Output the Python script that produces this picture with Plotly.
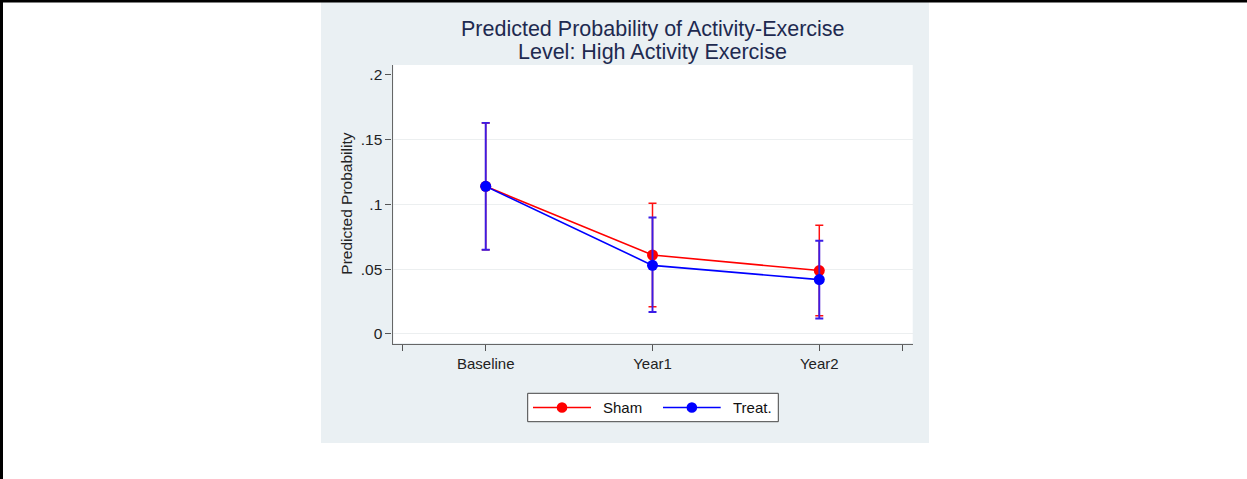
import numpy as np
import plotly.graph_objects as go

# Predicted probability of high activity exercise by visit and arm
periods = ["Baseline", "Year1", "Year2"]
period_pos = [1, 2, 3]

sham_prob = [0.114, 0.061, 0.049]
sham_lo = [0.065, 0.021, 0.014]
sham_hi = [0.163, 0.101, 0.084]

treat_prob = [0.114, 0.053, 0.042]
treat_lo = [0.065, 0.017, 0.012]
treat_hi = [0.163, 0.090, 0.072]

y_ticks = [0, 0.05, 0.1, 0.15, 0.2]
y_tick_text = ["0", ".05", ".1", ".15", ".2"]

W, H = 1247, 479


def px(x):
    return x / W


def py(y):
    return 1 - y / H


PANEL = "#EAF0F3"
FONT = "Arial, Liberation Sans, Helvetica, sans-serif"


def arm_trace(name, prob, lo, hi, color, err_color, err_width):
    prob = np.array(prob)
    return go.Scatter(
        x=period_pos,
        y=prob,
        name=name,
        mode="lines+markers",
        line=dict(color=color, width=1.6),
        marker=dict(color=color, size=11),
        error_y=dict(
            type="data",
            symmetric=False,
            array=np.array(hi) - prob,
            arrayminus=prob - np.array(lo),
            color=err_color,
            thickness=err_width,
            width=4,
        ),
        showlegend=False,
        cliponaxis=False,
    )


fig = go.Figure()
fig.add_trace(arm_trace("Sham", sham_prob, sham_lo, sham_hi, "#FF0000", "#FF1010", 1.5))
fig.add_trace(arm_trace("Treat.", treat_prob, treat_lo, treat_hi, "#0000FF", "#3A1CE6", 1.9))

# grid-only overlay axis (no line at the top tick)
fig.add_trace(go.Scatter(x=[None], y=[None], yaxis="y2", showlegend=False))

x_dom = [px(392.5), px(912.7)]
y_dom = [py(343.5), py(65)]
y_range = [-0.00734, 0.2077]

fig.update_layout(
    width=W,
    height=H,
    margin=dict(l=0, r=0, t=0, b=0),
    paper_bgcolor="white",
    plot_bgcolor="rgba(0,0,0,0)",
    font=dict(family=FONT, size=15, color="#222222"),
    xaxis=dict(
        domain=x_dom,
        range=[0.4412, 3.56],
        tickvals=[0.5] + period_pos + [3.5],
        ticktext=[""] + periods + [""],
        ticks="outside",
        ticklen=6,
        tickwidth=1,
        tickcolor="#555555",
        showline=True,
        linecolor="#666666",
        linewidth=1.2,
        showgrid=False,
        zeroline=False,
        tickfont=dict(size=15, color="#222222"),
    ),
    yaxis=dict(
        domain=y_dom,
        range=y_range,
        tickvals=y_ticks,
        ticktext=y_tick_text,
        ticks="outside",
        ticklen=6,
        tickwidth=1,
        tickcolor="#555555",
        showline=True,
        linecolor="#666666",
        linewidth=1.2,
        showgrid=False,
        zeroline=False,
        tickfont=dict(size=15.5, color="#222222"),
    ),
    yaxis2=dict(
        overlaying="y",
        range=y_range,
        tickvals=y_ticks[:-1],
        showticklabels=False,
        ticks="",
        showgrid=True,
        gridcolor="#ECEFF0",
        gridwidth=1.2,
        zeroline=False,
        showline=False,
    ),
)

shapes = [
    # graph panel and white plot region
    dict(type="rect", xref="paper", yref="paper", x0=px(321), x1=px(929), y0=py(443), y1=py(0),
         fillcolor=PANEL, line=dict(width=0), layer="below"),
    dict(type="rect", xref="paper", yref="paper", x0=px(393.5), x1=px(912.7), y0=py(343), y1=py(65),
         fillcolor="white", line=dict(width=0), layer="below"),
    # page frame
    dict(type="rect", xref="paper", yref="paper", x0=0, x1=1, y0=py(2.5), y1=1,
         fillcolor="black", line=dict(width=0)),
    dict(type="rect", xref="paper", yref="paper", x0=0, x1=px(3), y0=0, y1=1,
         fillcolor="black", line=dict(width=0)),
    # legend box
    dict(type="rect", xref="paper", yref="paper", x0=px(527.7), x1=px(778.3), y0=py(421.7), y1=py(393.3),
         fillcolor="white", line=dict(color="#444444", width=1)),
]

annotations = [
    dict(text="Predicted Probability of Activity-Exercise", x=px(652.5), y=py(29.5), xref="paper", yref="paper",
         xanchor="center", yanchor="middle", showarrow=False,
         font=dict(family=FONT, size=21.5, color="#1E2A50")),
    dict(text="Level: High Activity Exercise", x=px(652.5), y=py(52), xref="paper", yref="paper",
         xanchor="center", yanchor="middle", showarrow=False,
         font=dict(family=FONT, size=21.5, color="#1E2A50")),
    dict(text="Predicted Probability", x=px(346.7), y=py(204), xref="paper", yref="paper",
         xanchor="center", yanchor="middle", textangle=-90, showarrow=False,
         font=dict(family=FONT, size=15.5, color="#222222")),
]

legend_y = 407.5
legend_items = [("Sham", "#FF0000", 533, 591, 601), ("Treat.", "#0000FF", 663, 720.7, 731)]
for label, color, lx0, lx1, tx in legend_items:
    cx = (lx0 + lx1) / 2
    shapes.append(dict(type="line", xref="paper", yref="paper", x0=px(lx0), x1=px(lx1),
                       y0=py(legend_y), y1=py(legend_y), line=dict(color=color, width=1.6)))
    shapes.append(dict(type="circle", xref="paper", yref="paper", x0=px(cx - 5.3), x1=px(cx + 5.3),
                       y0=py(legend_y + 5.3), y1=py(legend_y - 5.3), fillcolor=color,
                       line=dict(color=color, width=0)))
    annotations.append(dict(text=label, x=px(tx), y=py(legend_y), xref="paper", yref="paper",
                            xanchor="left", yanchor="middle", showarrow=False,
                            font=dict(family=FONT, size=15, color="#111111")))

fig.update_layout(shapes=shapes, annotations=annotations)

fig.write_html("out.html")
